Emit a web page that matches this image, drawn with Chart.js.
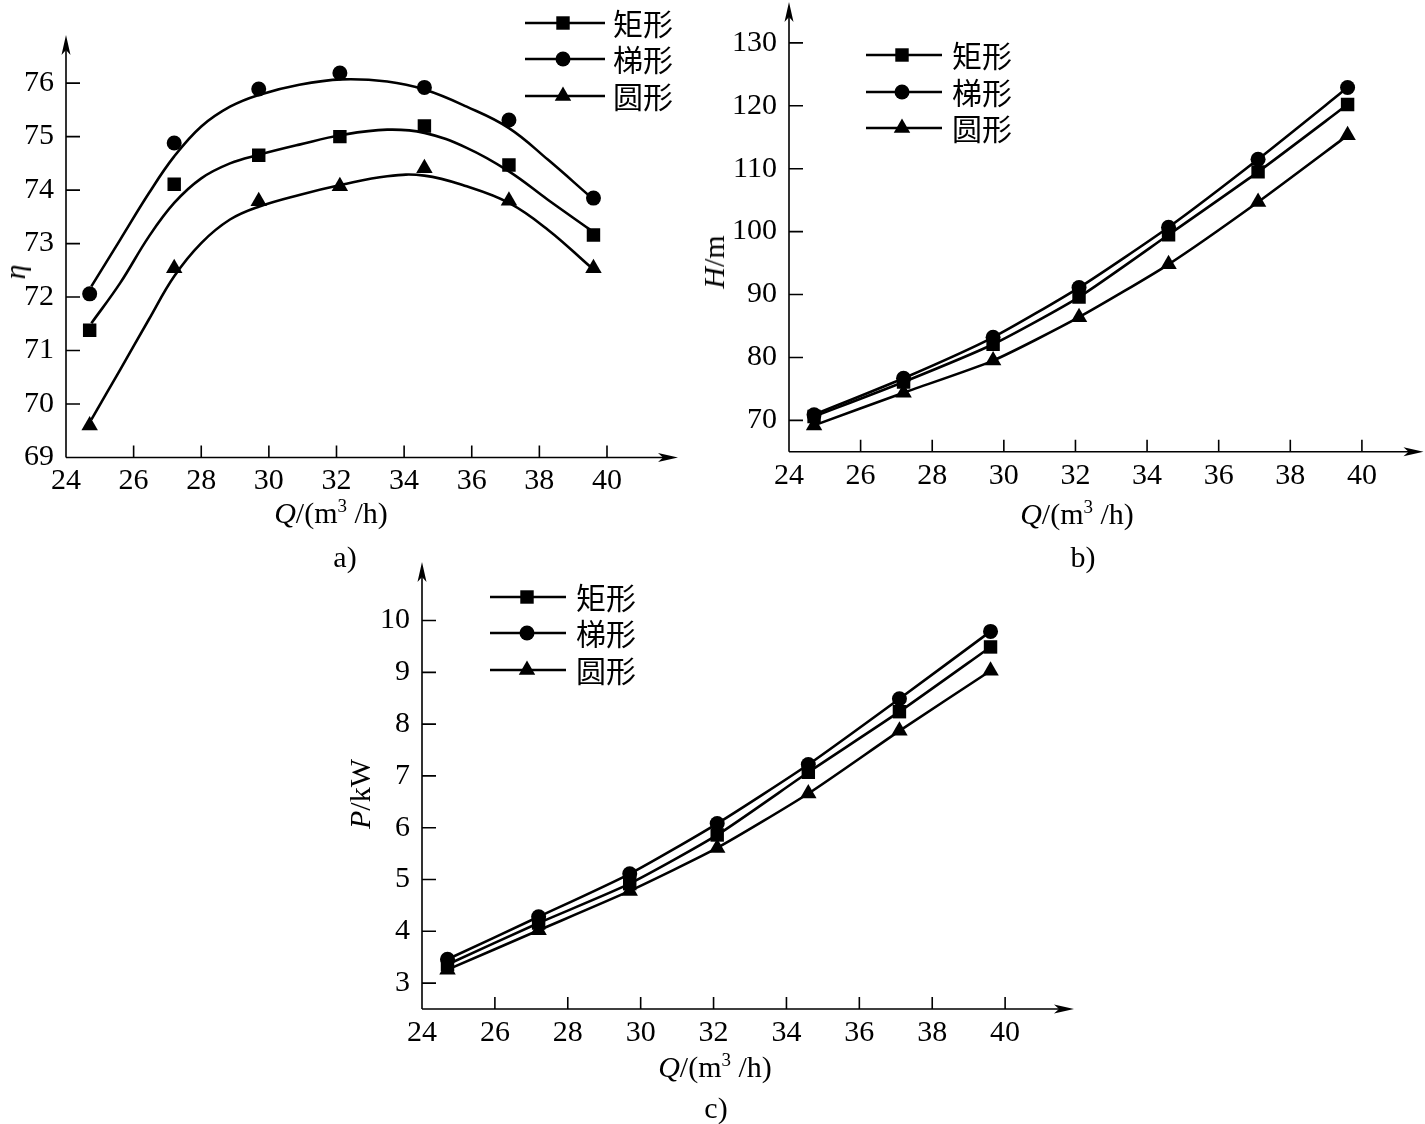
<!DOCTYPE html>
<html>
<head>
<meta charset="utf-8">
<script src="https://cdn.jsdelivr.net/npm/chart.js@4.4.1/dist/chart.umd.min.js"></script>
<style>
  body { margin: 0; background: #fff; }
  #page { position: relative; width: 1425px; height: 1124px; overflow: hidden; background: #fff;
          font-family: "Liberation Serif", "DejaVu Serif", serif; color: #000; }
  canvas { position: absolute; }
  .lbl { position: absolute; font-size: 30px; line-height: 1; white-space: nowrap; transform: translate(-50%, -50%); }
  .rot { transform: translate(-50%, -50%) rotate(-90deg); }
  .sup { font-size: 19px; position: relative; top: -11px; }
</style>
</head>
<body>
<div id="page">
  <canvas id="chartA" width="700" height="560" style="left:0;top:0"></canvas>
  <canvas id="chartB" width="725" height="560" style="left:700px;top:0"></canvas>
  <canvas id="chartC" width="760" height="564" style="left:330px;top:560px"></canvas>

  <div class="lbl rot" style="left:15px;top:272px"><i>η</i></div>
  <div class="lbl" style="left:331px;top:513px"><i>Q</i>/(m<span class="sup">3</span> /h)</div>
  <div class="lbl" style="left:345px;top:557px">a)</div>

  <div class="lbl rot" style="left:714px;top:262px"><i>H</i>/m</div>
  <div class="lbl" style="left:1077px;top:514px"><i>Q</i>/(m<span class="sup">3</span> /h)</div>
  <div class="lbl" style="left:1083px;top:557px">b)</div>

  <div class="lbl rot" style="left:360px;top:794px"><i>P</i>/kW</div>
  <div class="lbl" style="left:715px;top:1067px"><i>Q</i>/(m<span class="sup">3</span> /h)</div>
  <div class="lbl" style="left:716px;top:1108px">c)</div>
</div>

<script>
// flow rate of the test points
const qValues = [24.7, 27.2, 29.7, 32.1, 34.6, 37.1, 39.6];
const seriesNames = ["矩形", "梯形", "圆形"];

// a) efficiency, measured points
const etaRect = [71.38, 74.11, 74.65, 75.0, 75.2, 74.47, 73.16];
const etaTrap = [72.06, 74.88, 75.89, 76.19, 75.92, 75.31, 73.85];
const etaCirc = [69.6, 72.54, 73.79, 74.07, 74.41, 73.8, 72.54];

// a) fitted curves at these flow rates
const qFit = [24.75, 25.6, 26.45, 27.2, 28.0, 28.85, 29.7, 30.9, 32.15, 33.5, 34.6, 35.85, 37.1, 38.25, 39.5];
const etaRectFit = [71.51, 72.26, 73.13, 73.76, 74.22, 74.5, 74.66, 74.85, 75.03, 75.13, 75.07, 74.79, 74.35, 73.82, 73.26];
const etaTrapFit = [72.2, 73.07, 73.94, 74.63, 75.19, 75.56, 75.78, 75.97, 76.07, 76.03, 75.88, 75.56, 75.16, 74.57, 73.88];
const etaCircFit = [69.71, 70.64, 71.58, 72.39, 73.01, 73.45, 73.69, 73.91, 74.1, 74.26, 74.27, 74.07, 73.76, 73.26, 72.57];

// b) head H/m
const headRect = [70.6, 76.1, 82.1, 89.6, 99.5, 109.5, 120.2];
const headTrap = [70.9, 76.7, 83.2, 91.1, 100.7, 111.5, 122.9];
const headCirc = [69.2, 74.4, 79.5, 86.4, 94.8, 104.7, 115.3];

// c) power P/kW
const powRect = [3.36, 4.16, 4.92, 5.86, 7.07, 8.24, 9.49];
const powTrap = [3.46, 4.28, 5.11, 6.08, 7.22, 8.49, 9.79];
const powCirc = [3.26, 4.02, 4.78, 5.61, 6.66, 7.87, 9.03];

// tick labels
const qTicks = [24, 26, 28, 30, 32, 34, 36, 38, 40];
const etaTicks = [69, 70, 71, 72, 73, 74, 75, 76];
const headTicks = [70, 80, 90, 100, 110, 120, 130];
const powTicks = [3, 4, 5, 6, 7, 8, 9, 10];

const markers = [
  { style: "rect", radius: 9.5 },
  { style: "circle", radius: 7.5 },
  { style: "triangle", radius: 9.5 }
];

function toXY(xs, ys) {
  return xs.map((q, i) => ({ x: q, y: ys[i] }));
}

// axes with arrows, inward ticks, and the line+marker legend
const axisPlugin = {
  id: "axisArrows",
  beforeDatasetsDraw(chart) {
    const { ctx, chartArea: a, scales } = chart;
    const o = chart.options.plugins.axisArrows;
    ctx.save();
    ctx.strokeStyle = "#000";
    ctx.fillStyle = "#000";
    ctx.lineWidth = 1.6;
    ctx.beginPath();
    ctx.moveTo(a.left, a.bottom);
    ctx.lineTo(a.left, a.top + 8);
    ctx.moveTo(a.left, a.bottom);
    ctx.lineTo(a.right - 8, a.bottom);
    o.xTicks.forEach(v => {
      if (v <= scales.x.min) return;
      const px = scales.x.getPixelForValue(v);
      ctx.moveTo(px, a.bottom);
      ctx.lineTo(px, a.bottom - 12);
    });
    o.yTicks.forEach(v => {
      if (v <= scales.y.min) return;
      const py = scales.y.getPixelForValue(v);
      ctx.moveTo(a.left, py);
      ctx.lineTo(a.left + 14, py);
    });
    ctx.stroke();

    // arrow heads
    ctx.beginPath();
    ctx.moveTo(a.left, a.top);
    ctx.lineTo(a.left - 4.5, a.top + 20);
    ctx.lineTo(a.left, a.top + 15);
    ctx.lineTo(a.left + 4.5, a.top + 20);
    ctx.closePath();
    ctx.moveTo(a.right, a.bottom);
    ctx.lineTo(a.right - 20, a.bottom - 4.5);
    ctx.lineTo(a.right - 15, a.bottom);
    ctx.lineTo(a.right - 20, a.bottom + 4.5);
    ctx.closePath();
    ctx.fill();
    ctx.restore();
  },
  afterDatasetsDraw(chart) {
    const { ctx } = chart;
    const lg = chart.options.plugins.axisArrows.legend;
    ctx.save();
    ctx.strokeStyle = "#000";
    ctx.fillStyle = "#000";
    ctx.font = '30px "Noto Sans CJK SC"';
    ctx.textBaseline = "middle";
    seriesNames.forEach((name, i) => {
      const y = lg.rows[i];
      ctx.lineWidth = 2.6;
      ctx.beginPath();
      ctx.moveTo(lg.x0, y);
      ctx.lineTo(lg.x1, y);
      ctx.stroke();
      ctx.lineWidth = 0;
      Chart.helpers.drawPoint(ctx, { pointStyle: markers[i].style, radius: markers[i].radius, rotation: 0, borderWidth: 0 }, lg.xm, y);
      ctx.fillText(name, lg.tx, y + 1);
    });
    ctx.restore();
  }
};

function lineSet(xs, ys, i, tension, withPoints) {
  return {
    label: seriesNames[i],
    data: toXY(xs, ys),
    showLine: true,
    borderColor: "#000",
    borderWidth: 2.6,
    backgroundColor: "#000",
    tension: tension,
    pointStyle: markers[i].style,
    pointRadius: withPoints ? markers[i].radius : 0,
    pointBorderWidth: 0
  };
}

function pointSet(ys, i) {
  return {
    label: seriesNames[i],
    data: toXY(qValues, ys),
    showLine: false,
    backgroundColor: "#000",
    borderColor: "#000",
    pointStyle: markers[i].style,
    pointRadius: markers[i].radius,
    pointBorderWidth: 0
  };
}

function makeOptions(c) {
  const tickFont = { family: "Liberation Serif", size: 30, lineHeight: 1 };
  return {
    responsive: false,
    animation: false,
    devicePixelRatio: 1,
    layout: { padding: c.padding, autoPadding: false },
    plugins: {
      legend: { display: false },
      tooltip: { enabled: false },
      axisArrows: { xTicks: qTicks, yTicks: c.yTicks, legend: c.legend }
    },
    scales: {
      x: {
        type: "linear",
        min: 24,
        max: c.xMax,
        grid: { display: false },
        border: { display: false },
        ticks: { font: tickFont, color: "#000", padding: 1, maxRotation: 0, autoSkip: false },
        afterBuildTicks: s => { s.ticks = qTicks.map(v => ({ value: v })); },
        afterFit: s => { s.height = c.xHeight; s.paddingLeft = 0; s.paddingRight = 0; }
      },
      y: {
        type: "linear",
        min: c.yMin,
        max: c.yMax,
        grid: { display: false },
        border: { display: false },
        ticks: { font: tickFont, color: "#000", padding: 4, autoSkip: false },
        afterBuildTicks: s => { s.ticks = c.yTicks.map(v => ({ value: v })); },
        afterFit: s => { s.width = c.yWidth; s.paddingTop = 0; s.paddingBottom = 0; }
      }
    }
  };
}

new Chart(document.getElementById("chartA"), {
  type: "scatter",
  data: {
    datasets: [
      lineSet(qFit, etaRectFit, 0, 0.4, false),
      lineSet(qFit, etaTrapFit, 1, 0.4, false),
      lineSet(qFit, etaCircFit, 2, 0.4, false),
      pointSet(etaRect, 0),
      pointSet(etaTrap, 1),
      pointSet(etaCirc, 2)
    ]
  },
  options: makeOptions({
    padding: { top: 35, right: 22, left: 0, bottom: 0 },
    xMax: 42.1, yMin: 69, yMax: 76.9, yTicks: etaTicks,
    yWidth: 66, xHeight: 102.5,
    legend: { x0: 525, x1: 605, xm: 563, tx: 613, rows: [23, 59, 96] }
  }),
  plugins: [axisPlugin]
});

new Chart(document.getElementById("chartB"), {
  type: "scatter",
  data: {
    datasets: [
      lineSet(qValues, headRect, 0, 0.2, true),
      lineSet(qValues, headTrap, 1, 0.2, true),
      lineSet(qValues, headCirc, 2, 0.2, true)
    ]
  },
  options: makeOptions({
    padding: { top: 2, right: 1.5, left: 0, bottom: 0 },
    xMax: 41.72, yMin: 65, yMax: 136.5, yTicks: headTicks,
    yWidth: 89, xHeight: 108.2,
    legend: { x0: 166, x1: 242, xm: 202, tx: 252, rows: [55, 92, 128] }
  }),
  plugins: [axisPlugin]
});

new Chart(document.getElementById("chartC"), {
  type: "scatter",
  data: {
    datasets: [
      lineSet(qValues, powRect, 0, 0.2, true),
      lineSet(qValues, powTrap, 1, 0.2, true),
      lineSet(qValues, powCirc, 2, 0.2, true)
    ]
  },
  options: makeOptions({
    padding: { top: 2, right: 16, left: 0, bottom: 0 },
    xMax: 41.89, yMin: 2.5, yMax: 11.13, yTicks: powTicks,
    yWidth: 92, xHeight: 115,
    legend: { x0: 160, x1: 236, xm: 197, tx: 246, rows: [37, 73, 110] }
  }),
  plugins: [axisPlugin]
});
</script>
</body>
</html>
